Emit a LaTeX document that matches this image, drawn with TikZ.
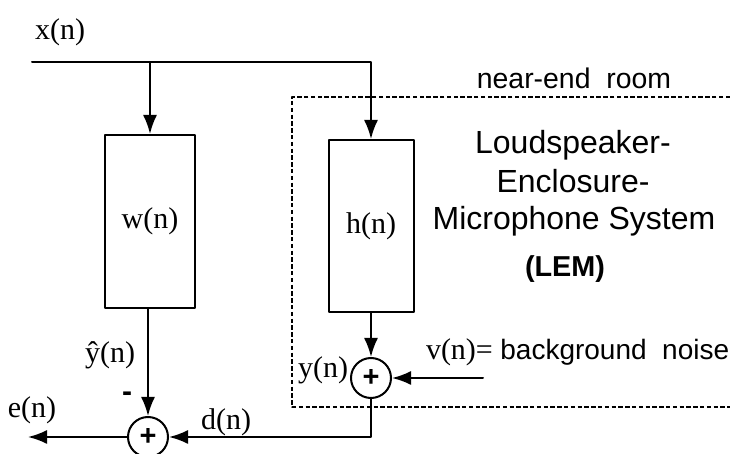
\documentclass[tikz,border=0pt]{standalone}
\usepackage{fontspec}
\setmainfont{Liberation Serif}
\setsansfont{Liberation Sans}
\usetikzlibrary{arrows.meta,positioning}

\begin{document}
\begin{tikzpicture}[>={Latex[length=9.5pt,width=7pt]}, x=0.5pt, y=-0.5pt, line width=1pt, line cap=round, line join=round,
    every node/.style={font=\fontsize{15}{17}\selectfont, inner sep=1pt},
    blk/.style={draw, rectangle, inner sep=0pt, minimum width=45pt},
    adder/.style={draw, circle, inner sep=0pt, minimum size=20pt, font=\sffamily\bfseries\fontsize{14.5}{14.5}\selectfont},
    lemtxt/.style={anchor=base, font=\sffamily\fontsize{16}{19}\selectfont},
    roomtxt/.style={font=\sffamily\fontsize{14.2}{17}\selectfont},
    room/.style={line width=0.9pt, dash pattern=on 2.2pt off 1.2pt, line cap=butt}]
    \path[use as bounding box] (0,0) rectangle (730,454);
    % filters and adders
    \node[blk, minimum height=86.5pt] (W) at (150,221.5) {w(n)};
    \node[blk, minimum height=86pt, minimum width=42.5pt] (H) at (371,226) {h(n)};
    \node[adder] (S1) at (148,437) {+};
    \node[adder] (S2) at (371,378) {+};
    \coordinate (xin) at (32,62);
    \coordinate (vin) at (483,378);
    \coordinate (eout) at (28,437);
    % near-end room
    \coordinate (roomTR) at (730,97);
    \coordinate (roomBL) at (292,407);
    \draw[room] (roomTR) -| (roomBL) -- (roomBL -| roomTR);
    % signal paths
    \draw[->] (xin) -| (H);
    \draw[->] (W.north |- xin) -- (W);
    \draw[->] (W.south -| S1) -- (S1);
    \draw[->] (H) -- (S2);
    \draw[->] (vin) -- (S2);
    \draw[->] (S2) |- (S1);
    \draw[->] (S1) -- (eout);
    % labels
    \node (xlab) at (60,32) {x(n)};
    \node (yhatlab) at (110,355) {ŷ(n)};
    \node[font=\sffamily\bfseries\fontsize{15}{17}\selectfont] (minus) at (127,397) {-};
    \node (elab) at (32,410) {e(n)};
    \node (dlab) at (226,422) {d(n)};
    \node (ylab) at (323,370) {y(n)};
    \node[anchor=west] (vlab) at (423,352) {v(n)= {\sffamily\fontsize{14}{17}\selectfont background\ \ noise}};
    \node[roomtxt] (roomlab) at (574,78) {near-end\ \ room};
    \node[lemtxt] (lem1) at (573,154) {Loudspeaker-};
    \node[lemtxt] (lem2) at (573,193) {Enclosure-};
    \node[lemtxt] (lem3) at (574,230) {Microphone System};
    \node[lemtxt, font=\sffamily\bfseries\fontsize{14.4}{17}\selectfont] (lem4) at (565,277) {(LEM)};
\end{tikzpicture}
\end{document}
